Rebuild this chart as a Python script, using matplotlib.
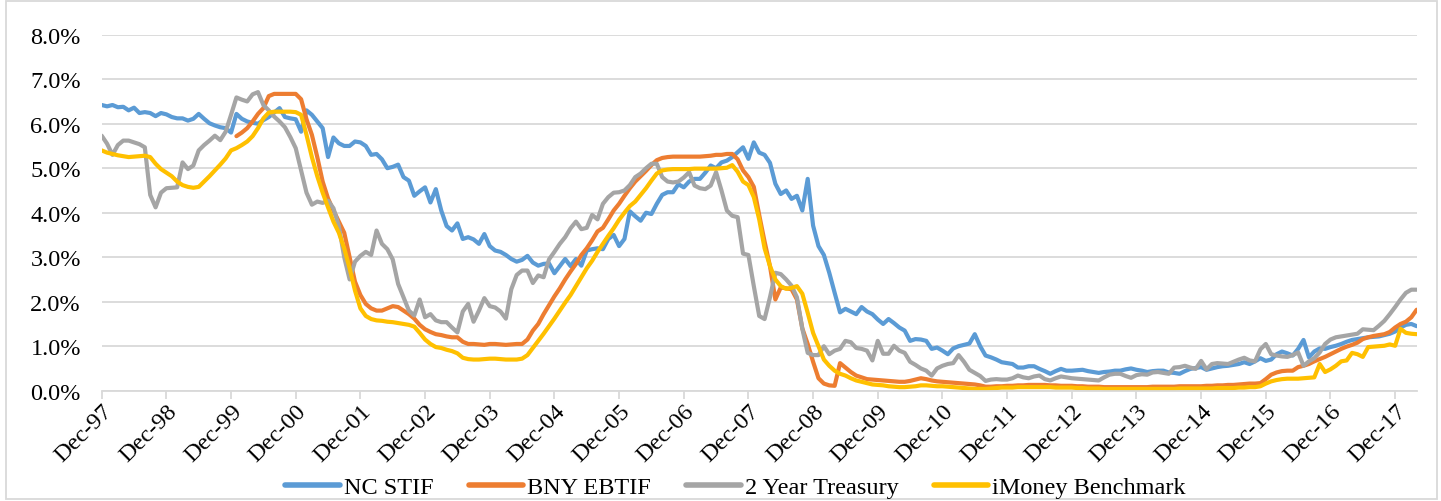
import numpy as np
import pandas as pd
import matplotlib
matplotlib.use("Agg")
import matplotlib.pyplot as plt
from matplotlib.patches import Rectangle

plt.rcParams['font.family'] = ['Liberation Serif', 'DejaVu Serif']

# Monthly observations, Dec-1997 .. Apr-2018
months = pd.date_range('1997-12-01', '2018-04-01', freq='MS')

nc_stif = [
    6.42, 6.39, 6.42, 6.37, 6.38, 6.30, 6.36, 6.24, 6.26, 6.24, 6.17, 6.24,
    6.21, 6.15, 6.12, 6.12, 6.07, 6.11, 6.22, 6.11, 6.01, 5.96, 5.92, 5.90,
    5.80, 6.22, 6.11, 6.05, 6.02, 6.00, 6.08, 6.15, 6.25, 6.35, 6.15, 6.12,
    6.10, 5.82, 6.30, 6.20, 6.05, 5.90, 5.25, 5.69, 5.56, 5.50, 5.50, 5.60,
    5.58, 5.50, 5.30, 5.32, 5.20, 5.00, 5.03, 5.08, 4.80, 4.72, 4.38, 4.48,
    4.57, 4.23, 4.53, 4.05, 3.70, 3.60, 3.76, 3.41, 3.45, 3.40, 3.30, 3.52,
    3.25, 3.15, 3.12, 3.05, 2.96, 2.90, 2.94, 3.03, 2.88, 2.81, 2.85, 2.86,
    2.64, 2.80, 2.96, 2.80, 2.96, 2.81, 3.15, 3.18, 3.20, 3.18, 3.41, 3.50,
    3.25, 3.41, 4.03, 3.92, 3.82, 4.00, 3.97, 4.20, 4.40, 4.46, 4.46, 4.64,
    4.57, 4.70, 4.76, 4.76, 4.90, 5.06, 5.00, 5.13, 5.17, 5.25, 5.36, 5.47,
    5.21, 5.58, 5.35, 5.30, 5.12, 4.65, 4.42, 4.50, 4.31, 4.38, 4.05, 4.76,
    3.71, 3.25, 3.05, 2.65, 2.20, 1.76, 1.84, 1.78, 1.72, 1.88, 1.78, 1.72,
    1.60, 1.50, 1.61, 1.52, 1.42, 1.35, 1.12, 1.16, 1.15, 1.12, 0.94, 0.97,
    0.90, 0.82, 0.95, 1.00, 1.03, 1.06, 1.27, 1.00, 0.79, 0.75, 0.70, 0.64,
    0.62, 0.60, 0.52, 0.52, 0.55, 0.55, 0.49, 0.44, 0.38, 0.44, 0.49, 0.45,
    0.45, 0.46, 0.47, 0.44, 0.42, 0.40, 0.42, 0.43, 0.45, 0.45, 0.48, 0.50,
    0.47, 0.45, 0.42, 0.44, 0.45, 0.45, 0.41, 0.40, 0.38, 0.44, 0.49, 0.51,
    0.53, 0.47, 0.50, 0.53, 0.55, 0.56, 0.58, 0.60, 0.64, 0.60, 0.66, 0.73,
    0.67, 0.70, 0.82, 0.88, 0.84, 0.79, 0.94, 1.14, 0.75, 0.88, 0.95, 0.94,
    0.98, 1.01, 1.05, 1.10, 1.14, 1.16, 1.18, 1.20, 1.21, 1.22, 1.25, 1.28,
    1.33, 1.42, 1.48, 1.50, 1.45,
]

bny_ebtif = [None] * 25 + [
    5.72, 5.80, 5.90, 6.05, 6.22, 6.35, 6.62, 6.67, 6.67, 6.67, 6.67,
    6.67, 6.55, 6.10, 5.75, 5.25, 4.70, 4.32, 4.05, 3.80, 3.55, 3.00, 2.45,
    2.15, 1.95, 1.85, 1.80, 1.80, 1.85, 1.90, 1.88, 1.80, 1.72, 1.62, 1.48,
    1.38, 1.32, 1.27, 1.25, 1.22, 1.20, 1.20, 1.10, 1.05, 1.05, 1.04, 1.03,
    1.05, 1.05, 1.04, 1.03, 1.04, 1.05, 1.05, 1.15, 1.35, 1.50, 1.72, 1.92,
    2.12, 2.30, 2.50, 2.68, 2.85, 3.05, 3.20, 3.38, 3.58, 3.66, 3.85, 4.05,
    4.20, 4.38, 4.55, 4.70, 4.82, 4.94, 5.07, 5.18, 5.23, 5.25, 5.26, 5.26,
    5.26, 5.26, 5.26, 5.26, 5.27, 5.28, 5.30, 5.30, 5.32, 5.32, 5.20, 4.95,
    4.80, 4.58, 3.95, 3.35, 2.80, 2.05, 2.32, 2.30, 2.28, 2.05, 1.40, 1.05,
    0.65, 0.28, 0.16, 0.12, 0.11, 0.62, 0.52, 0.42, 0.34, 0.30, 0.26, 0.25,
    0.24, 0.23, 0.22, 0.21, 0.20, 0.20, 0.22, 0.25, 0.28, 0.26, 0.23, 0.21,
    0.20, 0.19, 0.18, 0.17, 0.16, 0.15, 0.14, 0.12, 0.09, 0.09, 0.10, 0.10,
    0.11, 0.11, 0.12, 0.12, 0.13, 0.13, 0.13, 0.13, 0.12, 0.12, 0.11, 0.11,
    0.11, 0.10, 0.10, 0.09, 0.09, 0.09, 0.08, 0.08, 0.08, 0.08, 0.08, 0.08,
    0.08, 0.08, 0.08, 0.09, 0.09, 0.09, 0.09, 0.09, 0.10, 0.10, 0.10, 0.10,
    0.10, 0.11, 0.11, 0.12, 0.12, 0.13, 0.13, 0.14, 0.15, 0.16, 0.16, 0.17,
    0.26, 0.36, 0.41, 0.44, 0.45, 0.45, 0.53, 0.56, 0.60, 0.66, 0.71, 0.76,
    0.82, 0.88, 0.94, 0.99, 1.03, 1.08, 1.16, 1.20, 1.23, 1.25, 1.27, 1.32,
    1.42, 1.50, 1.55, 1.65, 1.82,
]

treasury_2y = [
    5.73, 5.55, 5.30, 5.52, 5.62, 5.62, 5.58, 5.54, 5.47, 4.40, 4.12, 4.45,
    4.55, 4.56, 4.57, 5.13, 4.98, 5.06, 5.40, 5.52, 5.62, 5.73, 5.63, 5.82,
    6.20, 6.59, 6.54, 6.50, 6.66, 6.71, 6.42, 6.30, 6.16, 6.05, 5.92, 5.70,
    5.45, 4.95, 4.45, 4.18, 4.25, 4.22, 4.27, 4.10, 3.70, 3.00, 2.50, 2.90,
    3.03, 3.12, 3.05, 3.60, 3.30, 3.18, 2.95, 2.40, 2.10, 1.80, 1.69, 2.05,
    1.65, 1.72, 1.58, 1.54, 1.54, 1.42, 1.31, 1.78, 1.95, 1.55, 1.80, 2.08,
    1.90, 1.87, 1.78, 1.62, 2.28, 2.60, 2.70, 2.70, 2.42, 2.59, 2.55, 2.95,
    3.12, 3.30, 3.45, 3.65, 3.80, 3.63, 3.66, 3.95, 3.85, 4.20, 4.35, 4.45,
    4.46, 4.50, 4.62, 4.80, 4.88, 5.00, 5.10, 5.10, 4.80, 4.70, 4.68, 4.70,
    4.79, 4.91, 4.61, 4.55, 4.53, 4.61, 4.91, 4.50, 4.05, 3.93, 3.90, 3.08,
    3.05, 2.35, 1.68, 1.61, 2.10, 2.65, 2.62, 2.50, 2.36, 2.10, 1.39, 0.85,
    0.80, 0.80, 1.00, 0.82, 0.90, 0.94, 1.12, 1.09, 0.96, 0.94, 0.90, 0.68,
    1.12, 0.83, 0.83, 1.01, 0.90, 0.85, 0.65, 0.58, 0.50, 0.45, 0.34, 0.50,
    0.56, 0.60, 0.62, 0.80, 0.65, 0.47, 0.40, 0.33, 0.22, 0.25, 0.26, 0.25,
    0.25, 0.28, 0.34, 0.30, 0.28, 0.32, 0.34, 0.26, 0.23, 0.28, 0.32, 0.30,
    0.28, 0.27, 0.26, 0.25, 0.24, 0.23, 0.30, 0.36, 0.38, 0.38, 0.33, 0.29,
    0.35, 0.37, 0.36, 0.41, 0.42, 0.40, 0.38, 0.52, 0.53, 0.56, 0.52, 0.49,
    0.67, 0.48, 0.60, 0.62, 0.61, 0.60, 0.65, 0.70, 0.74, 0.68, 0.66, 0.93,
    1.05, 0.82, 0.79, 0.77, 0.76, 0.80, 0.86, 0.56, 0.66, 0.73, 0.86, 1.05,
    1.15, 1.20, 1.22, 1.24, 1.26, 1.28, 1.38, 1.37, 1.36, 1.46, 1.57, 1.72,
    1.88, 2.05, 2.20, 2.27, 2.27,
]

imoney = [
    5.40, 5.35, 5.32, 5.29, 5.27, 5.25, 5.26, 5.27, 5.28, 5.25, 5.10, 4.98,
    4.90, 4.82, 4.70, 4.62, 4.58, 4.56, 4.58, 4.70, 4.82, 4.95, 5.08, 5.22,
    5.40, 5.45, 5.52, 5.60, 5.72, 5.90, 6.12, 6.25, 6.27, 6.27, 6.27, 6.27,
    6.26, 6.20, 5.75, 5.25, 4.82, 4.45, 4.12, 3.80, 3.55, 3.20, 2.75, 2.25,
    1.85, 1.68, 1.61, 1.58, 1.57, 1.55, 1.54, 1.52, 1.50, 1.48, 1.44, 1.30,
    1.15, 1.05, 0.98, 0.96, 0.92, 0.89, 0.84, 0.74, 0.71, 0.70, 0.70, 0.71,
    0.72, 0.72, 0.71, 0.70, 0.70, 0.70, 0.72, 0.80, 0.96, 1.12, 1.28, 1.45,
    1.62, 1.80, 1.98, 2.15, 2.35, 2.55, 2.75, 2.92, 3.12, 3.30, 3.48, 3.65,
    3.84, 4.00, 4.15, 4.25, 4.40, 4.55, 4.72, 4.88, 4.95, 4.97, 4.98, 4.98,
    4.98, 4.98, 4.99, 4.99, 4.99, 4.99, 4.99, 5.00, 5.01, 5.07, 4.92, 4.70,
    4.62, 4.35, 3.85, 3.20, 2.80, 2.50, 2.35, 2.29, 2.31, 2.35, 2.18, 1.75,
    1.30, 1.00, 0.70, 0.56, 0.45, 0.38, 0.34, 0.28, 0.23, 0.20, 0.17, 0.14,
    0.13, 0.12, 0.10, 0.09, 0.08, 0.08, 0.09, 0.10, 0.12, 0.12, 0.11, 0.10,
    0.10, 0.09, 0.08, 0.07, 0.06, 0.05, 0.04, 0.04, 0.04, 0.05, 0.06, 0.07,
    0.07, 0.07, 0.08, 0.08, 0.08, 0.08, 0.08, 0.08, 0.08, 0.07, 0.07, 0.07,
    0.07, 0.06, 0.06, 0.05, 0.05, 0.05, 0.04, 0.04, 0.04, 0.04, 0.04, 0.04,
    0.04, 0.04, 0.04, 0.04, 0.04, 0.04, 0.04, 0.04, 0.05, 0.05, 0.05, 0.05,
    0.05, 0.05, 0.05, 0.06, 0.06, 0.06, 0.06, 0.07, 0.07, 0.08, 0.08, 0.10,
    0.16, 0.21, 0.24, 0.26, 0.27, 0.27, 0.27, 0.28, 0.29, 0.30, 0.60, 0.42,
    0.48, 0.56, 0.66, 0.68, 0.85, 0.82, 0.76, 0.98, 0.99, 1.00, 1.01, 1.04,
    1.01, 1.39, 1.30, 1.28, 1.27,
]

series_names = ["NC STIF", "BNY EBTIF", "2 Year Treasury", "iMoney Benchmark"]
series_colors = ["#5B9BD5", "#ED7D31", "#A5A5A5", "#FFC000"]
y_ticks = [0, 1, 2, 3, 4, 5, 6, 7, 8]

W, H = 1441, 502
fig = plt.figure(figsize=(W / 100, H / 100), dpi=100)
ax = fig.add_axes([101.7 / W, 1 - 391.7 / H, (1416.7 - 101.7) / W, (391.7 - 35.7) / H])

x = np.arange(len(months))
all_series = [nc_stif, bny_ebtif, treasury_2y, imoney]
for vals, name, col in zip(all_series, series_names, series_colors):
    v = np.array([np.nan if a is None else a for a in vals], dtype=float)
    ax.plot(x, v, color=col, lw=3.0, label=name, solid_joinstyle='round',
            solid_capstyle='round')

ax.set_xlim(0, len(months) - 1)
ax.set_ylim(0, 8)
ax.set_yticks(y_ticks)
ax.set_yticklabels([f"{t:.1f}%" for t in y_ticks])
ax.grid(axis='y', color='#D9D9D9', lw=1.3)
ax.set_axisbelow(True)

tick_pos = [i for i, d in enumerate(months) if d.month == 12]
ax.set_xticks(tick_pos)
ax.set_xticklabels([months[i].strftime('%b-%y') for i in tick_pos],
                   rotation=45, ha='right', rotation_mode='anchor')

for s in ['top', 'right', 'left']:
    ax.spines[s].set_visible(False)
ax.spines['bottom'].set_color('#D9D9D9')
ax.spines['bottom'].set_linewidth(1.3)
ax.tick_params(axis='x', length=6, width=1.3, color='#D9D9D9', labelsize=17.5, pad=1)
ax.tick_params(axis='y', length=0, labelsize=17.5, pad=15)

leg = fig.legend(loc='center', bbox_to_anchor=(735.5 / W, 1 - 488 / H), ncol=4,
                 frameon=False, fontsize=17.5, handlelength=2.25, handletextpad=0.16,
                 columnspacing=1.45, borderpad=0.2)
for h in leg.get_lines():
    h.set_linewidth(4)

fig.patches.append(Rectangle((6 / W, 2 / H), (W - 10) / W, (H - 4) / H,
                             transform=fig.transFigure, fill=False,
                             edgecolor='#D9D9D9', lw=1.3))

fig.savefig('out.png', dpi=100, facecolor='white')
